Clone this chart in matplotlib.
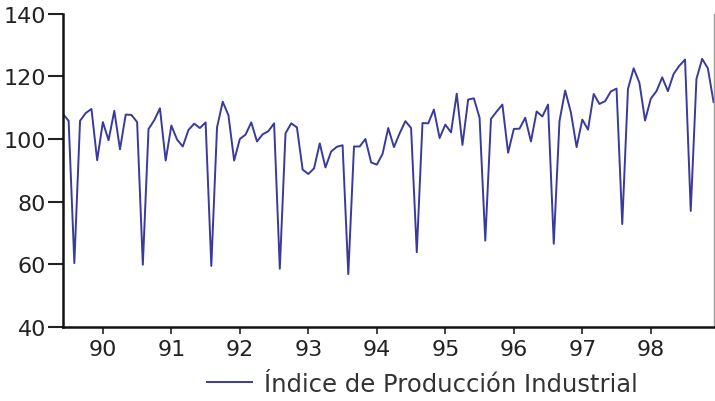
"""
Indice de Produccion Industrial, monthly series Jun 1989 - Dec 1998.
"""

import numpy as np
import matplotlib
matplotlib.use("Agg")
import matplotlib.pyplot as plt

# Series start (first month) and monthly values
START_YEAR = 1989
START_MONTH = 6
values = [
    # 1989 (Jun-Dec)
    108.0, 105.8, 60.3, 105.8, 108.3, 109.6, 93.2,
    # 1990
    105.4, 99.6, 109.0, 96.7, 107.8, 107.7, 105.4, 59.8, 103.2, 106.0, 109.8, 93.1,
    # 1991
    104.3, 99.8, 97.6, 102.9, 104.9, 103.5, 105.3, 59.4, 103.7, 111.9, 107.6, 93.1,
    # 1992
    100.0, 101.4, 105.3, 99.2, 101.5, 102.5, 105.0, 58.5, 101.8, 105.0, 103.7, 90.2,
    # 1993
    88.8, 90.6, 98.6, 90.9, 96.0, 97.5, 98.0, 56.8, 97.6, 97.6, 100.0, 92.5,
    # 1994
    91.8, 95.2, 103.5, 97.4, 101.8, 105.7, 103.5, 63.8, 105.1, 105.0, 109.4, 100.3,
    # 1995
    104.6, 102.1, 114.5, 98.1, 112.6, 113.0, 106.8, 67.5, 106.4, 108.8, 111.0, 95.6,
    # 1996
    103.2, 103.3, 106.8, 99.2, 108.8, 107.2, 111.0, 66.5, 105.7, 115.5, 108.5, 97.4,
    # 1997
    106.2, 103.0, 114.4, 111.2, 112.1, 115.2, 116.1, 72.8, 116.0, 122.6, 118.0, 105.9,
    # 1998
    112.9, 115.3, 119.7, 115.3, 120.8, 123.4, 125.4, 77.0, 119.2, 125.6, 122.6, 111.8,
]
tick_years = [1990, 1991, 1992, 1993, 1994, 1995, 1996, 1997, 1998]
tick_labels = ["90", "91", "92", "93", "94", "95", "96", "97", "98"]
y_ticks = [40, 60, 80, 100, 120, 140]
series_name = "Índice de Producción Industrial"

# decimal-year position of each month
t = START_YEAR + (START_MONTH - 1) / 12 + np.arange(len(values)) / 12

line_color = "#3a3a9e"
text_color = "#222222"

fig = plt.figure(figsize=(7.15, 4.02), dpi=100)
ax = fig.add_axes([0.088, 0.185, 0.910, 0.778])

ax.plot(t, values, color=line_color, lw=1.4, label=series_name)

ax.set_xlim(t[0], t[-1])
ax.set_ylim(40, 140)
ax.set_xticks(tick_years)
ax.set_xticklabels(tick_labels)
ax.set_yticks(y_ticks)

ax.tick_params(axis="y", direction="out", length=11, width=1.5,
               labelsize=16, colors=text_color, pad=1)
ax.tick_params(axis="x", direction="out", length=5, width=1.2,
               labelsize=16, colors=text_color, pad=4)

ax.spines["top"].set_visible(False)
ax.spines["right"].set_color("#999999")
ax.spines["right"].set_linewidth(1.0)
for side in ["left", "bottom"]:
    ax.spines[side].set_color("#111111")
    ax.spines[side].set_linewidth(1.8)

fig.legend(loc="center", bbox_to_anchor=(422 / 715, 1 - 385 / 402),
           frameon=False, fontsize=17.5, handlelength=1.85,
           handletextpad=0.5, labelcolor="#333333")

fig.savefig("out.png", dpi=100)
